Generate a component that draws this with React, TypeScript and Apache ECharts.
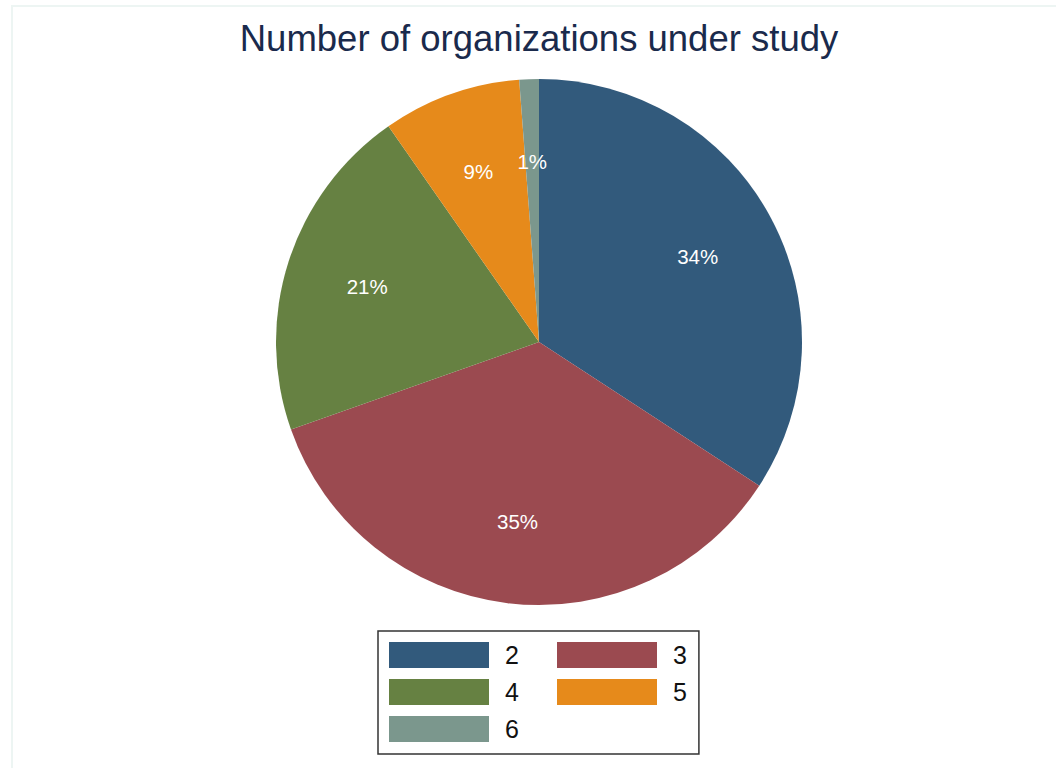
import React, { useEffect, useRef } from "react";
import * as echarts from "echarts";

const titleText = "Number of organizations under study";
const categories = ["2", "3", "4", "5", "6"];
const shares = [34.2, 35.4, 20.7, 8.5, 1.2];
const colors = ["#325a7c", "#9b4a50", "#668142", "#e68a1b", "#7b978d"];
const leftColumn = ["2", "4", "6"];

export default function App() {
  const ref = useRef<HTMLDivElement>(null);
  useEffect(() => {
    const chart = echarts.init(ref.current!, null, { renderer: "svg" });
    const total = shares.reduce((a, b) => a + b, 0);
    const data = categories.map((c, i) => ({
      name: c,
      value: shares[i],
      itemStyle: { color: colors[i] },
    }));
    chart.setOption({
      animation: false,
      backgroundColor: "#ffffff",
      graphic: [
        {
          type: "rect",
          shape: { x: 12, y: 6, width: 1100, height: 800 },
          style: { fill: "none", stroke: "#edf5f3", lineWidth: 2 },
          silent: true,
        },
      ],
      title: {
        text: titleText,
        left: 534,
        textAlign: "center",
        top: 15,
        textStyle: {
          fontFamily: "Liberation Sans, Arial, sans-serif",
          fontSize: 36.5,
          fontWeight: "normal",
          color: "#1a2a4c",
        },
      },
      legend: {
        left: 378,
        top: 631,
        orient: "horizontal",
        width: 300,
        padding: [11, 12, 12, 11],
        itemGap: 11,
        itemWidth: 100,
        itemHeight: 26,
        icon: "rect",
        borderColor: "#333333",
        borderWidth: 1.5,
        selectedMode: false,
        data: categories.map((c) =>
          leftColumn.includes(c)
            ? { name: c, textStyle: { width: 41 } }
            : { name: c }
        ),
        textStyle: {
          fontFamily: "Liberation Sans, Arial, sans-serif",
          fontSize: 25,
          lineHeight: 26,
          color: "#111111",
          padding: [0, 0, 0, 11],
        },
      },
      series: [
        {
          type: "pie",
          name: "main",
          center: [539, 342],
          radius: [0, 263],
          startAngle: 90,
          clockwise: true,
          data,
          label: { show: false },
          labelLine: { show: false },
          itemStyle: { borderWidth: 0 },
          silent: true,
        },
        {
          type: "pie",
          name: "labels",
          center: [539, 342],
          radius: [92, 263],
          startAngle: 90,
          clockwise: true,
          data: categories.map((c, i) => ({ name: c, value: shares[i] })),
          itemStyle: { color: "rgba(0,0,0,0)", borderWidth: 0 },
          label: {
            show: true,
            position: "inside",
            formatter: (p: any) => Math.round((p.value / total) * 100) + "%",
            color: "#ffffff",
            fontSize: 20.5,
            fontFamily: "Liberation Sans, Arial, sans-serif",
          },
          labelLine: { show: false },
          silent: true,
          z: 5,
        },
      ],
    });
    return () => chart.dispose();
  }, []);
  return (
    <div
      ref={ref}
      style={{ position: "absolute", left: 0, top: 0, width: 1056, height: 768 }}
    />
  );
}
